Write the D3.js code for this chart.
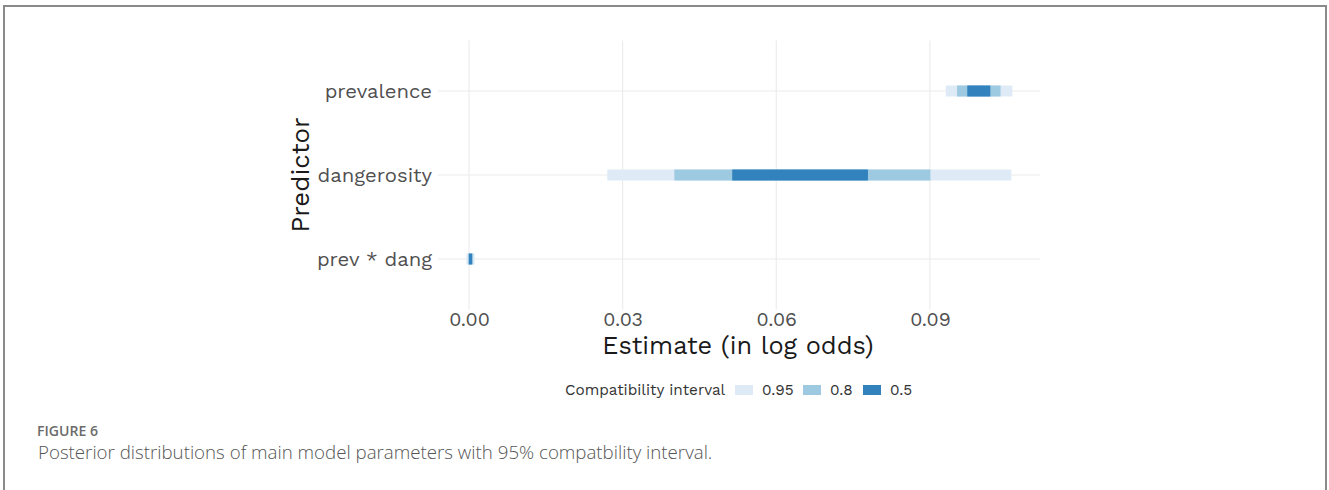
<!DOCTYPE html>
<html><head><meta charset="utf-8">
<script src="https://cdn.jsdelivr.net/npm/d3@7"></script>
<style>
html,body{margin:0;padding:0;background:#fff;}
svg{display:block;}
</style></head>
<body>
<svg id="chart" width="1329" height="490"></svg>
<script>
const predictors = ["prevalence", "dangerosity", "prev * dang"];
const levels = ["0.95", "0.8", "0.5"];
const lower95 = [0.0931, 0.0270, -0.0005];
const upper95 = [0.1061, 0.1059, 0.0011];
const lower80 = [0.0953, 0.0401, -0.0002];
const upper80 = [0.1038, 0.0901, 0.0008];
const lower50 = [0.0973, 0.0514, 0.0000];
const upper50 = [0.1018, 0.0779, 0.0006];
const xTicks = [0.00, 0.03, 0.06, 0.09];
const colors = ["#deebf7", "#9ecae1", "#3182bd"];

const svg = d3.select("#chart");
const font = "'Work Sans','Open Sans',sans-serif";

// frame
svg.append("path").attr("d","M4,492 V6 H1326 V492").attr("fill","none").attr("stroke","#8a8a8a").attr("stroke-width",2);

const x = d3.scaleLinear().domain([-0.00605, 0.1115]).range([438, 1040]);
const y = d3.scalePoint().domain(predictors).range([40.6, 309.4]).padding(0.6);

const g = svg.append("g");
// vertical grid
g.selectAll("line.vg").data(xTicks).join("line")
  .attr("x1", d => x(d)).attr("x2", d => x(d))
  .attr("y1", 40.6).attr("y2", 309.4)
  .attr("stroke", "#ebebeb").attr("stroke-width", 1.1);
// horizontal grid
g.selectAll("line.hg").data(predictors).join("line")
  .attr("x1", 438).attr("x2", 1040)
  .attr("y1", d => y(d)).attr("y2", d => y(d))
  .attr("stroke", "#ebebeb").attr("stroke-width", 1.1);

const intervals = [];
predictors.forEach((p, i) => {
  intervals.push({p, lvl: 0, lo: lower95[i], hi: upper95[i]});
  intervals.push({p, lvl: 1, lo: lower80[i], hi: upper80[i]});
  intervals.push({p, lvl: 2, lo: lower50[i], hi: upper50[i]});
});
const barH = 11;
g.selectAll("rect.iv").data(intervals).join("rect")
  .attr("x", d => x(d.lo)).attr("width", d => Math.max(1, x(d.hi) - x(d.lo)))
  .attr("y", d => y(d.p) - barH/2).attr("height", barH)
  .attr("fill", d => colors[d.lvl]);

// y axis labels
const yAxis = d3.axisLeft(y).tickSize(0).tickPadding(6);
const ya = svg.append("g").attr("transform","translate(438,0)").call(yAxis);
ya.select(".domain").remove();
ya.selectAll("text").attr("font-family", font).attr("font-size", 20.3).attr("fill", "#505050").attr("dy","0.34em");

// x axis labels
const xAxis = d3.axisBottom(x).tickValues(xTicks).tickFormat(d3.format(".2f")).tickSize(0).tickPadding(3);
const xa = svg.append("g").attr("transform","translate(0,309.4)").call(xAxis);
xa.select(".domain").remove();
xa.selectAll("text").attr("font-family", font).attr("font-size", 19.5).attr("fill", "#505050");

// axis titles
svg.append("text").attr("x", 738).attr("y", 354).attr("text-anchor","middle")
  .attr("font-family", font).attr("font-size", 25.3).attr("fill","#1a1a1a").text("Estimate (in log odds)");
svg.append("text").attr("transform","translate(309,175) rotate(-90)").attr("text-anchor","middle")
  .attr("font-family", font).attr("font-size", 25.8).attr("fill","#1a1a1a").text("Predictor");

// legend
const lg = svg.append("g");
lg.append("text").attr("x", 565).attr("y", 395).attr("font-family", font).attr("font-size", 15.3).attr("fill","#333").text("Compatibility interval");
const keyX = [735, 803, 863];
levels.forEach((l, i) => {
  lg.append("rect").attr("x", keyX[i]).attr("y", 385).attr("width", 18).attr("height", 10).attr("fill", colors[i]);
  lg.append("text").attr("x", keyX[i] + 27).attr("y", 395).attr("font-family", font).attr("font-size", 15.3).attr("fill","#333").text(l);
});

// caption
svg.append("text").attr("x", 37).attr("y", 436).attr("font-family","'Open Sans',sans-serif").attr("font-size", 13.5).attr("font-weight", 600).attr("fill","#6b6b6b")
  .attr("textLength", 61).attr("lengthAdjust","spacingAndGlyphs").text("FIGURE 6");
svg.append("text").attr("x", 38).attr("y", 459).attr("font-family","'Open Sans',sans-serif").attr("font-size", 18.7).attr("font-weight", 300).attr("fill","#555").text("Posterior distributions of main model parameters with 95% compatbility interval.");
</script>
</body></html>
